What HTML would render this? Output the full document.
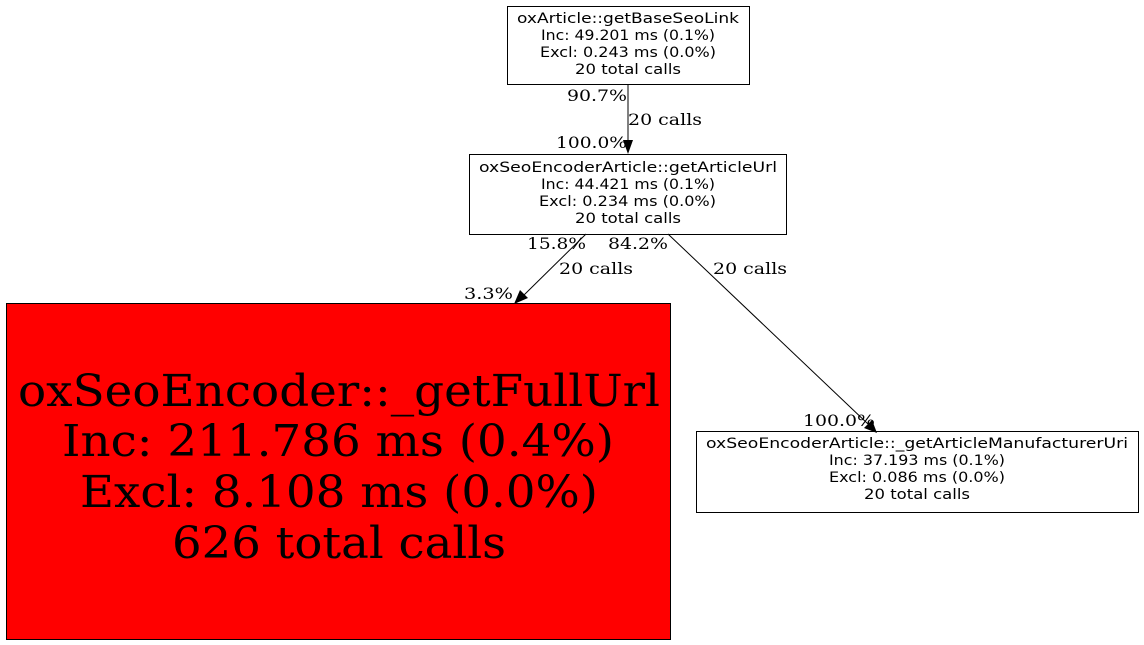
<!DOCTYPE html>
<html><head><meta charset="utf-8"><style>
html,body{margin:0;padding:0;background:#fff;}
svg{display:block;}
.n{font-family:"DejaVu Sans","Liberation Sans",sans-serif;font-size:14px;}
.e{font-family:"DejaVu Serif","Liberation Serif",serif;font-size:16px;}
.b{font-family:"DejaVu Serif","Liberation Serif",serif;font-size:44px;}
</style></head><body>
<svg width="1144" height="645" viewBox="0 0 1144 645" xmlns="http://www.w3.org/2000/svg">
<rect width="1144" height="645" fill="#fff"/>
<rect x="507.5" y="6.5" width="242" height="78" fill="#fff" stroke="#000"/>
<g class="n" fill="#000" lengthAdjust="spacingAndGlyphs">
<text x="517" y="23" textLength="222" lengthAdjust="spacingAndGlyphs">oxArticle::getBaseSeoLink</text>
<text x="541" y="40" textLength="174" lengthAdjust="spacingAndGlyphs">Inc: 49.201 ms (0.1%)</text>
<text x="540" y="57" textLength="176" lengthAdjust="spacingAndGlyphs">Excl: 0.243 ms (0.0%)</text>
<text x="575" y="74" textLength="106" lengthAdjust="spacingAndGlyphs">20 total calls</text>
</g>
<rect x="469.5" y="154.5" width="317" height="80" fill="#fff" stroke="#000"/>
<g class="n" fill="#000">
<text x="479" y="172" textLength="298" lengthAdjust="spacingAndGlyphs">oxSeoEncoderArticle::getArticleUrl</text>
<text x="541" y="189" textLength="174" lengthAdjust="spacingAndGlyphs">Inc: 44.421 ms (0.1%)</text>
<text x="539" y="206" textLength="177" lengthAdjust="spacingAndGlyphs">Excl: 0.234 ms (0.0%)</text>
<text x="575" y="223" textLength="106" lengthAdjust="spacingAndGlyphs">20 total calls</text>
</g>
<rect x="6.5" y="303.5" width="664" height="336" fill="#ff0000" stroke="#000"/>
<g class="b" fill="#000">
<text x="18" y="406" textLength="642" lengthAdjust="spacingAndGlyphs">oxSeoEncoder::_getFullUrl</text>
<text x="62" y="456" textLength="552" lengthAdjust="spacingAndGlyphs">Inc: 211.786 ms (0.4%)</text>
<text x="80" y="507" textLength="518" lengthAdjust="spacingAndGlyphs">Excl: 8.108 ms (0.0%)</text>
<text x="172" y="558" textLength="334" lengthAdjust="spacingAndGlyphs">626 total calls</text>
</g>
<rect x="696.5" y="431.5" width="442" height="81" fill="#fff" stroke="#000"/>
<g class="n" fill="#000">
<text x="706" y="448" textLength="422" lengthAdjust="spacingAndGlyphs">oxSeoEncoderArticle::_getArticleManufacturerUri</text>
<text x="829" y="465" textLength="176" lengthAdjust="spacingAndGlyphs">Inc: 37.193 ms (0.1%)</text>
<text x="829" y="482" textLength="176" lengthAdjust="spacingAndGlyphs">Excl: 0.086 ms (0.0%)</text>
<text x="864" y="499" textLength="106" lengthAdjust="spacingAndGlyphs">20 total calls</text>
</g>
<g stroke="#000" fill="none">
<line x1="628" y1="85" x2="628" y2="142"/>
<line x1="586" y1="234" x2="524" y2="295"/>
<line x1="668" y1="234" x2="868" y2="424"/>
</g>
<g fill="#000">
<polygon points="623,140 633,140 628,154"/>
<polygon points="520,290 528,298 514,304"/>
<polygon points="864,428 872,420 877,433"/>
</g>
<g class="e" fill="#000">
<text x="567" y="101" textLength="60" lengthAdjust="spacingAndGlyphs">90.7%</text>
<text x="628" y="125" textLength="74" lengthAdjust="spacingAndGlyphs">20 calls</text>
<text x="556" y="148" textLength="71" lengthAdjust="spacingAndGlyphs">100.0%</text>
<text x="527" y="249" textLength="59" lengthAdjust="spacingAndGlyphs">15.8%</text>
<text x="559" y="274" textLength="74" lengthAdjust="spacingAndGlyphs">20 calls</text>
<text x="464" y="299" textLength="49" lengthAdjust="spacingAndGlyphs">3.3%</text>
<text x="608" y="249" textLength="60" lengthAdjust="spacingAndGlyphs">84.2%</text>
<text x="713" y="274" textLength="74" lengthAdjust="spacingAndGlyphs">20 calls</text>
<text x="803" y="426" textLength="72" lengthAdjust="spacingAndGlyphs">100.0%</text>
</g>
</svg>
</body></html>
